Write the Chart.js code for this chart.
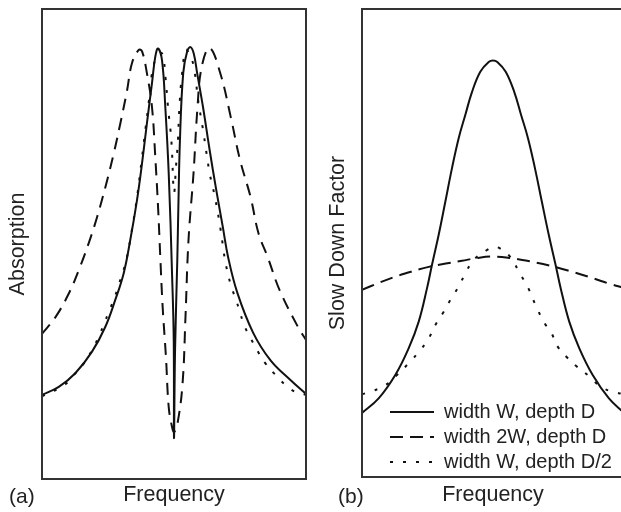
<!DOCTYPE html>
<html lang="en">
<head>
    <meta charset="UTF-8">
    <title>Absorption and Slow Down Factor</title>
    <script src="https://cdn.jsdelivr.net/npm/chart.js"></script>
    <style>
        body { margin: 0; width: 621px; height: 512px; overflow: hidden; background: #fff; position: relative; }
        canvas { position: absolute; top: 0; }
        #absChart { left: 0; }
        #slowChart { left: 320px; }
    </style>
</head>
<body>
    <canvas id="absChart" width="320" height="512"></canvas>
    <canvas id="slowChart" width="306" height="512"></canvas>

    <script>
        // (a) absorption, frequency offset from line centre (-1..1), normalised absorption
        const aSolidF = [-1.0, -0.873, -0.748, -0.621, -0.52, -0.445, -0.381, -0.331, -0.280, -0.242, -0.205, -0.167, -0.142, -0.121, -0.091, -0.066, -0.040, -0.015, -0.002, 0,
                         0.008, 0.025, 0.033, 0.045, 0.07, 0.1, 0.125, 0.15, 0.175, 0.22, 0.27, 0.32, 0.37, 0.41, 0.48, 0.60, 0.73, 0.88, 1.0];
        const aSolidV = [0.179, 0.196, 0.225, 0.271, 0.324, 0.381, 0.438, 0.509, 0.594, 0.672, 0.757, 0.842, 0.898, 0.916, 0.891, 0.792, 0.650, 0.438, 0.296, 0.087,
                         0.274, 0.466, 0.578, 0.721, 0.864, 0.910, 0.919, 0.905, 0.864, 0.791, 0.700, 0.615, 0.536, 0.472, 0.396, 0.311, 0.253, 0.211, 0.181];

        const aDashF = [-1.0, -0.899, -0.798, -0.722, -0.646, -0.583, -0.520, -0.457, -0.407, -0.356, -0.318, -0.267, -0.242, -0.205, -0.167, -0.142, -0.121, -0.104, -0.086, -0.061, -0.040, -0.015, 0,
                        0.027, 0.065, 0.087, 0.11, 0.148, 0.178, 0.21, 0.27, 0.35, 0.43, 0.50, 0.58, 0.64, 0.71, 0.80, 0.94, 1.0];
        const aDashV = [0.309, 0.344, 0.394, 0.444, 0.502, 0.557, 0.621, 0.692, 0.756, 0.826, 0.885, 0.913, 0.910, 0.863, 0.792, 0.686, 0.580, 0.473, 0.366, 0.260, 0.153, 0.111, 0.100,
                        0.119, 0.204, 0.345, 0.509, 0.651, 0.791, 0.877, 0.917, 0.864, 0.770, 0.679, 0.600, 0.523, 0.472, 0.402, 0.323, 0.296];

        const aDotF = [-1.0, -0.836, -0.760, -0.684, -0.621, -0.570, -0.533, -0.495, -0.449, -0.419, -0.386, -0.356, -0.323, -0.280, -0.242, -0.217, -0.192, -0.167, -0.129, -0.09, -0.065, -0.045, -0.02, 0,
                       0.015, 0.03, 0.04, 0.06, 0.09, 0.12, 0.15, 0.185, 0.22, 0.27, 0.31, 0.35, 0.375, 0.39, 0.43, 0.47, 0.50, 0.53, 0.58, 0.63, 0.69, 0.77, 0.845, 0.92, 1.0];
        const aDotV = [0.176, 0.199, 0.221, 0.246, 0.274, 0.303, 0.328, 0.355, 0.387, 0.413, 0.441, 0.473, 0.523, 0.600, 0.685, 0.743, 0.800, 0.862, 0.900, 0.905, 0.855, 0.790, 0.720, 0.610,
                       0.664, 0.721, 0.785, 0.860, 0.913, 0.902, 0.877, 0.802, 0.743, 0.651, 0.600, 0.536, 0.487, 0.460, 0.413, 0.381, 0.355, 0.328, 0.300, 0.274, 0.247, 0.221, 0.200, 0.185, 0.179];

        // (b) slow down factor, same frequency axis
        const bSolidF = [-1.0, -0.873, -0.746, -0.644, -0.567, -0.504, -0.466, -0.415, -0.364, -0.313, -0.262, -0.211, -0.160, -0.097, -0.033, 0,
                         0.033, 0.097, 0.162, 0.214, 0.267, 0.320, 0.373, 0.426, 0.478, 0.517, 0.582, 0.659, 0.761, 0.885, 1.0];
        const bSolidV = [0.137, 0.168, 0.218, 0.275, 0.332, 0.403, 0.453, 0.517, 0.588, 0.660, 0.724, 0.774, 0.823, 0.866, 0.887, 0.890,
                         0.887, 0.866, 0.823, 0.774, 0.724, 0.660, 0.588, 0.517, 0.453, 0.403, 0.332, 0.275, 0.218, 0.168, 0.137];

        const bDashF = [-1.0, -0.87, -0.746, -0.62, -0.49, -0.36, -0.237, -0.12, 0, 0.13, 0.28, 0.46, 0.61, 0.76, 0.9, 1.0];
        const bDashV = [0.400, 0.415, 0.428, 0.439, 0.449, 0.456, 0.462, 0.468, 0.471, 0.468, 0.461, 0.450, 0.438, 0.425, 0.412, 0.404];

        const bDotF = [-1.0, -0.937, -0.822, -0.733, -0.644, -0.555, -0.491, -0.44, -0.376, -0.326, -0.262, -0.211, -0.147, -0.046, 0,
                       0.05, 0.13, 0.205, 0.27, 0.33, 0.395, 0.445, 0.495, 0.56, 0.64, 0.74, 0.82, 0.915, 1.0];
        const bDotV = [0.177, 0.182, 0.196, 0.218, 0.243, 0.271, 0.296, 0.325, 0.353, 0.378, 0.407, 0.435, 0.464, 0.485, 0.491,
                       0.489, 0.471, 0.435, 0.403, 0.364, 0.328, 0.308, 0.278, 0.257, 0.236, 0.214, 0.193, 0.182, 0.177];

        const seriesNames = ['width W, depth D', 'width 2W, depth D', 'width W, depth D/2'];

        const ink = '#111';
        const textColor = '#222';
        const fontFamily = '"Liberation Sans", Arial, Helvetica, sans-serif';

        function pts(xs, ys) {
            return xs.map((x, i) => ({ x: x, y: ys[i] }));
        }

        function lineSet(label, xs, ys, dash) {
            return {
                label: label,
                data: pts(xs, ys),
                borderColor: ink,
                backgroundColor: ink,
                borderWidth: 2,
                borderDash: dash,
                pointRadius: 0,
                fill: false,
                tension: 0.4
            };
        }

        // box round the plot area plus the (a)/(b) tag
        const framePlugin = {
            id: 'frame',
            afterDraw(chart, args, opts) {
                const { ctx, chartArea: a } = chart;
                ctx.save();
                ctx.strokeStyle = '#333';
                ctx.lineWidth = 2;
                ctx.strokeRect(a.left, a.top, a.right - a.left, a.bottom - a.top);
                ctx.fillStyle = textColor;
                ctx.font = '21px ' + fontFamily;
                ctx.textBaseline = 'middle';
                ctx.fillText(opts.tag, opts.tagX, 497);
                ctx.restore();
            }
        };

        // push the legend in from the left edge of the plot area
        const legendShift = {
            id: 'legendShift',
            afterLayout(chart) {
                const lg = chart.legend;
                if (!lg) return;
                lg.left = chart.chartArea.left + 23;
                lg.top = chart.chartArea.top;
                lg.bottom = chart.chartArea.bottom;
            }
        };

        // legend samples take the dash pattern of their line
        function dashedLabels(chart) {
            const items = Chart.defaults.plugins.legend.labels.generateLabels(chart);
            items.forEach(item => {
                const ds = chart.data.datasets[item.datasetIndex];
                item.lineDash = ds.borderDash;
                item.lineWidth = ds.borderWidth;
                item.strokeStyle = ds.borderColor;
            });
            return items;
        }

        function axes(yTitle, xPad, yPad) {
            const title = (text, pad) => ({
                display: true, text: text, color: textColor,
                font: { family: fontFamily, size: 21.5 }, padding: pad
            });
            return {
                x: {
                    type: 'linear', min: -1, max: 1,
                    ticks: { display: false },
                    grid: { display: false, drawTicks: false },
                    border: { display: false },
                    title: title('Frequency', xPad)
                },
                y: {
                    type: 'linear', min: 0, max: 1,
                    ticks: { display: false },
                    grid: { display: false, drawTicks: false },
                    border: { display: false },
                    title: title(yTitle, yPad)
                }
            };
        }

        new Chart(document.getElementById('absChart'), {
            type: 'line',
            data: {
                datasets: [
                    lineSet(seriesNames[0], aSolidF, aSolidV, []),
                    lineSet(seriesNames[1], aDashF, aDashV, [12, 8]),
                    lineSet(seriesNames[2], aDotF, aDotV, [3, 10])
                ]
            },
            options: {
                responsive: false,
                animation: false,
                layout: { autoPadding: false, padding: { top: 9, right: 14, left: 0, bottom: 0 } },
                plugins: {
                    legend: { display: false },
                    tooltip: { enabled: false },
                    frame: { tag: '(a)', tagX: 9 }
                },
                scales: axes('Absorption', { top: 3.2, bottom: 4 }, { top: 5, bottom: 11.2 })
            },
            plugins: [framePlugin]
        });

        new Chart(document.getElementById('slowChart'), {
            type: 'line',
            data: {
                datasets: [
                    lineSet(seriesNames[0], bSolidF, bSolidV, []),
                    lineSet(seriesNames[1], bDashF, bDashV, [13, 7]),
                    lineSet(seriesNames[2], bDotF, bDotV, [3, 10])
                ]
            },
            options: {
                responsive: false,
                animation: false,
                layout: { autoPadding: false, padding: { top: 9, right: 2, left: 0, bottom: 0 } },
                plugins: {
                    legend: {
                        position: 'chartArea',
                        align: 'end',
                        labels: {
                            usePointStyle: true,
                            pointStyle: 'line',
                            pointStyleWidth: 44,
                            padding: 5,
                            color: textColor,
                            font: { family: fontFamily, size: 20 },
                            generateLabels: dashedLabels
                        }
                    },
                    tooltip: { enabled: false },
                    frame: { tag: '(b)', tagX: 18 }
                },
                scales: axes('Slow Down Factor', { top: 5.2, bottom: 4 }, { top: 5, bottom: 11.2 })
            },
            plugins: [framePlugin, legendShift]
        });
    </script>
</body>
</html>
